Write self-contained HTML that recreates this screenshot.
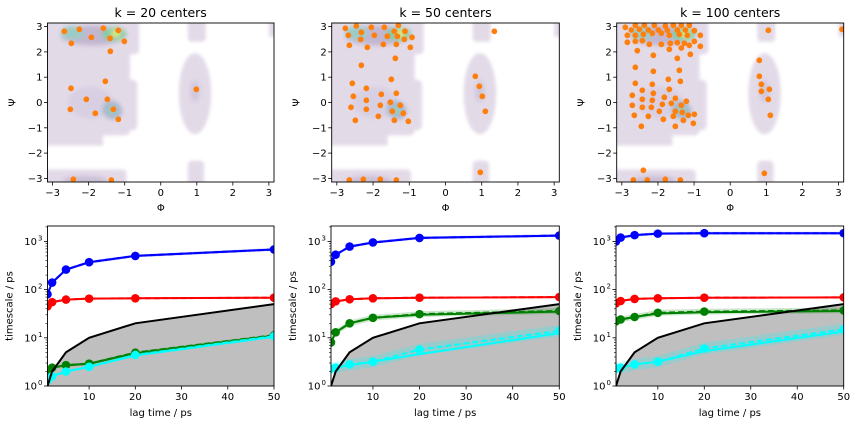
<!DOCTYPE html>
<html><head><meta charset="utf-8"><style>
html,body{margin:0;padding:0;background:#fff;}
svg{display:block;font-family:"DejaVu Sans","Liberation Sans",sans-serif;}
</style></head><body>
<svg id="s" width="856" height="424" viewBox="0 0 856 424" xmlns="http://www.w3.org/2000/svg">
<defs>
<filter id="bl" x="-30%" y="-30%" width="160%" height="160%"><feGaussianBlur stdDeviation="1.5"/></filter>
<filter id="bl2" x="-50%" y="-50%" width="200%" height="200%"><feGaussianBlur stdDeviation="2.5"/></filter>
<clipPath id="c0"><rect x="47.5" y="23" width="226.5" height="159"/></clipPath>
<clipPath id="c1"><rect x="331.7" y="23" width="227.6" height="159"/></clipPath>
<clipPath id="c2"><rect x="616.7" y="23" width="227" height="159"/></clipPath>
<clipPath id="d0"><rect x="47.5" y="226" width="226.5" height="160"/></clipPath>
<clipPath id="d1"><rect x="331" y="226" width="228.3" height="160"/></clipPath>
<clipPath id="d2"><rect x="616" y="226" width="227.7" height="160"/></clipPath>
</defs>
<text x="160.7" y="17" font-size="12.5" text-anchor="middle">k = 20 centers</text>
<text x="445.5" y="17" font-size="12.5" text-anchor="middle">k = 50 centers</text>
<text x="730.2" y="17" font-size="12.5" text-anchor="middle">k = 100 centers</text>
<g id="g"></g>
</svg>
<script>
var NS="http://www.w3.org/2000/svg",G=document.getElementById("g");
function el(t,a,p){var e=document.createElementNS(NS,t);for(var k in a)e.setAttribute(k,a[k]);(p||G).appendChild(e);return e;}
function tx(x,y,s,a){var e=el("text",Object.assign({x:x,y:y,"font-size":10},a||{}));e.textContent=s;return e;}
var tops=[[47.5,274],[331.7,559.3],[616.7,843.7]];
var bots=[[47.5,274],[331,559.3],[616,843.7]];
var pts=[
[[193,94],[238,88],[274,112],[310,85],[355,91],[330,115],[373,124],[214,130],[331,154],[316,244],[213,265],[259,298],[322,298],[211,328],[340,328],[286,340],[355,358],[589,268],[220,538],[334,540]],
[[166,85],[199,78],[244,82],[283,82],[325,76],[175,106],[214,97],[253,106],[292,109],[313,94],[345,94],[322,109],[212,118],[343,118],[366,112],[178,136],[280,133],[319,133],[361,142],[232,142],[316,175],[214,196],[304,238],[187,250],[229,265],[190,289],[274,283],[319,280],[229,301],[301,307],[183,322],[229,328],[271,316],[331,316],[196,361],[265,349],[307,334],[340,340],[313,361],[355,364],[613,94],[556,229],[568,259],[577,289],[586,334],[571,517],[178,540],[220,538],[271,538],[319,540]],
[[208,76],[235,76],[265,76],[298,78],[322,76],[346,76],[370,76],[178,82],[196,90],[220,88],[247,90],[277,90],[304,91],[334,90],[358,90],[385,92],[184,106],[208,106],[232,103],[259,100],[286,100],[310,106],[340,103],[364,106],[403,106],[184,127],[208,124],[229,122],[250,133],[286,133],[313,130],[334,128],[355,130],[385,124],[403,139],[346,144],[370,136],[214,152],[310,148],[262,166],[373,163],[334,175],[208,202],[262,214],[340,211],[580,181],[208,250],[259,253],[307,238],[343,244],[580,229],[586,253],[229,271],[262,280],[310,268],[586,274],[610,268],[199,286],[229,298],[259,301],[295,292],[328,295],[361,304],[607,298],[199,316],[229,322],[256,322],[289,313],[316,310],[346,316],[280,334],[328,334],[349,337],[385,343],[367,346],[205,346],[247,349],[292,358],[322,349],[352,361],[382,370],[613,346],[226,379],[328,379],[607,91],[828,88],[232,511],[595,520],[202,540],[244,540],[298,538],[343,540]]];
var offs=[0,290,566];
for(var i=0;i<3;i++){
 var L=tops[i][0],R=tops[i][1],W=R-L,T=23,B=182;
 var sx=function(v){return L+(v+Math.PI)/(2*Math.PI)*W;};
 var sy=function(v){return T+(Math.PI-v)/(2*Math.PI)*(B-T);};
 var g=el("g",{"clip-path":"url(#c"+i+")"});
 var bg=el("g",{filter:"url(#bl)",fill:"#e3dae8"},g);
 el("rect",{x:sx(-3.3),y:sy(3.3),width:sx(-0.85)-sx(-3.3),height:sy(-1.3)-sy(3.3),rx:5},bg);
 el("rect",{x:sx(-0.95),y:sy(3.3),width:sx(-0.6)-sx(-0.95),height:sy(1.9)-sy(3.3),rx:5},bg);
 el("rect",{x:sx(-0.95),y:sy(0.9),width:sx(-0.65)-sx(-0.95),height:sy(-1.1)-sy(0.9),rx:5},bg);
 el("rect",{x:sx(-3.3),y:sy(-1.2),width:sx(-1.6)-sx(-3.3),height:sy(-1.7)-sy(-1.2)},bg);
 el("rect",{x:sx(-3.3),y:sy(-2.65),width:sx(-0.95)-sx(-3.3),height:sy(-3.3)-sy(-2.65),rx:4},bg);
 el("ellipse",{cx:sx(0.95),cy:sy(0.35),rx:W/6.28*0.45,ry:(B-T)/6.28*1.6},bg);
 el("rect",{x:sx(0.75),y:sy(3.3),width:sx(1.25)-sx(0.75),height:sy(2.4)-sy(3.3),rx:4},bg);
 el("rect",{x:sx(0.75),y:sy(-2.3),width:sx(1.2)-sx(0.75),height:sy(-3.3)-sy(-2.3),rx:4},bg);
 el("rect",{x:sx(3.0),y:sy(3.3),width:20,height:sy(2.6)-sy(3.3)},bg);
 var dg=el("g",{filter:"url(#bl2)"},g);
 el("ellipse",{cx:sx(-1.9),cy:sy(2.65),rx:W*0.14,ry:10,fill:"#c2b6d0"},dg);
 el("ellipse",{cx:sx(-2.45),cy:sy(2.75),rx:W*0.05,ry:7,fill:"#9ccbc6"},dg);
 el("ellipse",{cx:sx(-1.3),cy:sy(2.7),rx:W*0.055,ry:7,fill:"#86c8a8"},dg);
 el("ellipse",{cx:sx(-1.25),cy:sy(2.72),rx:W*0.022,ry:4,fill:"#dcea74"},dg);
 el("ellipse",{cx:sx(-1.95),cy:sy(0),rx:W*0.1,ry:16,fill:"#d8d0e2"},dg);
 el("ellipse",{cx:sx(-1.35),cy:sy(-0.3),rx:W*0.045,ry:9,fill:"#a9b6cc",transform:"rotate(35 "+sx(-1.35)+" "+sy(-0.3)+")"},dg);
 el("ellipse",{cx:sx(-1.35),cy:sy(-0.3),rx:W*0.02,ry:4,fill:"#95d0c4"},dg);
 el("ellipse",{cx:sx(0.95),cy:sy(0.45),rx:5,ry:11,fill:"#d0c8dc"},dg);
 el("ellipse",{cx:sx(-2.1),cy:sy(-3.1),rx:W*0.1,ry:5,fill:"#c9bfd6"},dg);
 pts[i].forEach(function(p){el("circle",{cx:p[0]/3+offs[i],cy:p[1]/3,r:2.9,fill:"#ff7f0e"},g);});
 el("rect",{x:L,y:T,width:W,height:B-T,fill:"none",stroke:"#000","stroke-width":0.9});
 for(var v=-3;v<=3;v++){
  var x=sx(v); el("line",{x1:x,x2:x,y1:B,y2:B+3.5,stroke:"#000","stroke-width":0.8});
  tx(x,B+14,(v<0?"\u2212":"")+Math.abs(v),{"text-anchor":"middle"});
  var y=sy(v); el("line",{x1:L-3.5,x2:L,y1:y,y2:y,stroke:"#000","stroke-width":0.8});
  tx(L-5,y+3.5,(v<0?"\u2212":"")+Math.abs(v),{"text-anchor":"end"});
 }
 tx((L+R)/2,B+29,"\u03A6",{"text-anchor":"middle"});
 tx(0,0,"\u03A8",{"text-anchor":"middle",transform:"translate("+(L-32)+","+((T+B)/2)+") rotate(-90)"});
}
var lags=[1,2,5,10,20,50];
var data=[
 {b:[80,140,260,370,500,680],r:[45,55,62,65,66,68],g:[1.8,2.4,2.7,2.9,4.8,11],gd:[1.8,2.4,2.7,2.9,4.9,11.3],c:[1.3,1.6,2.0,2.5,4.3,10.5],cd:[1.3,1.6,2.0,2.5,4.4,10.8],gb:0.03,cb:0.03},
 {b:[380,530,780,950,1180,1320],r:[50,57,63,66,68,70],g:[8,13,20,26,30,35],gd:[8,13,20,26,31,36],c:[2.2,2.4,2.7,3.2,4.6,12.5],cd:[2.3,2.4,2.8,3.2,5.7,14],gb:0.06,cb:0.12},
 {b:[1000,1200,1350,1450,1480,1480],r:[52,58,64,66,68,69],g:[22,24,27,32,34,36],gd:[22,24,27,33,35,37],c:[2.3,2.4,2.8,3.2,5.3,13.5],cd:[2.3,2.4,2.8,3.2,6,15],gb:0.06,cb:0.12}];
for(var i=0;i<3;i++){
 var L=bots[i][0],R=bots[i][1],W=R-L,T=226,B=386,dec=48.2;
 var px=function(t){return L+(t-1)/49*W;};
 var py=function(v){return B-dec*Math.log10(v);};
 var g=el("g",{"clip-path":"url(#d"+i+")"});
 var D=data[i];
 function path(a){return lags.map(function(t,j){return (j?"L":"M")+px(t).toFixed(1)+","+py(a[j]).toFixed(1);}).join("");}
 function band(a,f){var up=lags.map(function(t,j){return px(t).toFixed(1)+","+py(a[j]*Math.pow(10,f)).toFixed(1);});var dn=lags.slice().reverse().map(function(t,j){var k=5-j;return px(t).toFixed(1)+","+py(a[k]*Math.pow(10,-f)).toFixed(1);});return "M"+up.join("L")+"L"+dn.join("L")+"Z";}
 el("path",{d:"M"+px(1)+","+B+"L"+lags.map(function(t){return px(t).toFixed(1)+","+py(t).toFixed(1);}).join("L")+"L"+px(50)+","+B+"Z",fill:"#bfbfbf"},g);
 var series=[["#0000ff",D.b,D.b,0.03],["#ff0000",D.r,D.r,0.01],["#008000",D.g,D.gd,D.gb],["#00ffff",D.c,D.cd,D.cb]];
 series.forEach(function(s){
  el("path",{d:band(s[2],s[3]),fill:s[0],"fill-opacity":0.2},g);
  el("path",{d:path(s[1]),fill:"none",stroke:s[0],"stroke-width":2},g);
  el("path",{d:path(s[2]),fill:"none",stroke:s[0],"stroke-width":2,"stroke-dasharray":"6,3"},g);
  lags.forEach(function(t,j){el("circle",{cx:px(t),cy:py(s[2][j]),r:4.3,fill:s[0]},g);});
 });
 el("path",{d:path(lags),fill:"none",stroke:"#000","stroke-width":2},g);
 el("rect",{x:L,y:T,width:W,height:B-T,fill:"none",stroke:"#000","stroke-width":0.9});
 [10,20,30,40,50].forEach(function(t){var x=px(t);el("line",{x1:x,x2:x,y1:B,y2:B+3.5,stroke:"#000","stroke-width":0.8});tx(x,B+14,""+t,{"text-anchor":"middle"});});
 for(var e=0;e<=3;e++){var y=py(Math.pow(10,e));el("line",{x1:L-3.5,x2:L,y1:y,y2:y,stroke:"#000","stroke-width":0.8});
  tx(L-10.5,y+3.5,"10",{"text-anchor":"end"});tx(L-5,y-1,""+e,{"text-anchor":"end","font-size":7});
  for(var m=2;m<=9;m++){var yy=py(m*Math.pow(10,e));if(yy>T)el("line",{x1:L-2,x2:L,y1:yy,y2:yy,stroke:"#000","stroke-width":0.6});}}
 tx((L+R)/2,B+30,"lag time / ps",{"text-anchor":"middle"});
 tx(0,0,"timescale / ps",{"text-anchor":"middle",transform:"translate("+(L-35)+","+((T+B)/2)+") rotate(-90)"});
}
</script>
</body></html>
